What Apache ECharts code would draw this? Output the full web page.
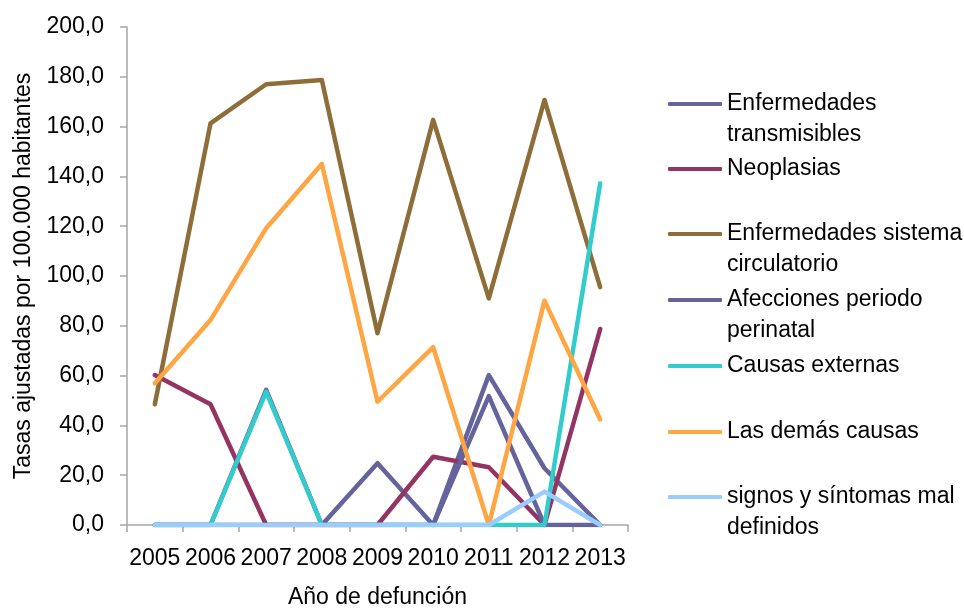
<!DOCTYPE html>
<html>
<head>
<meta charset="utf-8">
<script src="https://cdn.jsdelivr.net/npm/echarts@6/dist/echarts.min.js"></script>
<style>
  html, body { margin: 0; padding: 0; background: #ffffff; }
  #chart { width: 964px; height: 609px; }
</style>
</head>
<body>
<div id="chart"></div>
<script>
// Años de defunción (eje de categorías)
const years = ['2005', '2006', '2007', '2008', '2009', '2010', '2011', '2012', '2013'];

// Tasas ajustadas por 100.000 habitantes, por grupo de causas
const enfTransmisibles = [0, 0, 0, 0, 24.8, 0, 60.2, 22.8, 0];
const neoplasias = [60.2, 48.5, 0, 0, 0, 27.4, 23.2, 0, 78.7];
const sistemaCirculatorio = [48.5, 161.3, 177.0, 178.7, 77.0, 162.7, 91.0, 170.7, 95.5];
const periodoPerinatal = [0, 0, 54.3, 0, 0, 0, 51.8, 0, 0];
const causasExternas = [0, 0, 53.5, 0, 0, 0, 0, 0, 137.2];
const demasCausas = [56.9, 82.3, 119.2, 145.0, 49.5, 71.4, 0, 90.1, 42.4];
const signosMalDefinidos = [0, 0, 0, 0, 0, 0, 0, 13.4, 0];

// Nombres de las series y su texto en la leyenda (con salto de línea)
const seriesNames = [
  'Enfermedades transmisibles',
  'Neoplasias',
  'Enfermedades sistema circulatorio',
  'Afecciones periodo perinatal',
  'Causas externas',
  'Las demás causas',
  'signos y síntomas mal definidos'
];
const legendLabels = [
  'Enfermedades\ntransmisibles',
  'Neoplasias',
  'Enfermedades sistema\ncirculatorio',
  'Afecciones periodo\nperinatal',
  'Causas externas',
  'Las demás causas',
  'signos y síntomas mal\ndefinidos'
];
const seriesValues = [
  enfTransmisibles, neoplasias, sistemaCirculatorio, periodoPerinatal,
  causasExternas, demasCausas, signosMalDefinidos
];
const seriesColors = ['#65639B', '#943462', '#8D6E39', '#65639B', '#33CCCC', '#FFA644', '#99CCFF'];

const FONT = "'Liberation Sans', Arial, sans-serif";
const FONT_SIZE = 23;
const LINE_H = 31;
// Centro vertical del icono de cada entrada de la leyenda
const legendIconY = [104, 169, 234, 300, 366, 432, 497];

// Una leyenda por serie; en las de dos líneas se antepone una línea vacía
// para que la primera línea de texto quede a la altura del icono.
const legends = seriesNames.map(function (name, i) {
  const twoLines = legendLabels[i].indexOf('\n') >= 0;
  const text = twoLines ? '\n' + legendLabels[i] : legendLabels[i];
  const boxH = twoLines ? LINE_H * 3 : LINE_H;
  return {
    orient: 'vertical',
    left: 668,
    top: legendIconY[i] - boxH / 2,
    padding: 0,
    icon: 'roundRect',
    itemWidth: 54,
    itemHeight: 4,
    selectedMode: false,
    data: [name],
    formatter: function () { return text; },
    textStyle: {
      fontFamily: FONT,
      fontSize: FONT_SIZE,
      color: '#000000',
      lineHeight: LINE_H
    }
  };
});

const chart = echarts.init(document.getElementById('chart'), null, { renderer: 'canvas' });
chart.setOption({
  animation: false,
  backgroundColor: '#ffffff',
  legend: legends,
  grid: { left: 127, right: 336, top: 27, bottom: 84, containLabel: false, outerBoundsMode: 'none' },
  xAxis: {
    type: 'category',
    data: years,
    boundaryGap: true,
    name: 'Año de defunción',
    nameLocation: 'middle',
    nameGap: 61,
    nameTextStyle: { fontFamily: FONT, fontSize: FONT_SIZE, color: '#000000' },
    axisLine: { lineStyle: { color: '#A6A6A6', width: 1.5 } },
    axisTick: { show: true, length: 7, inside: false, alignWithLabel: false, lineStyle: { color: '#A6A6A6', width: 1.5 } },
    axisLabel: { margin: 22, fontFamily: FONT, fontSize: FONT_SIZE, color: '#000000', interval: 0, hideOverlap: false },
    splitLine: { show: false }
  },
  yAxis: {
    type: 'value',
    min: 0,
    max: 200,
    interval: 20,
    name: 'Tasas ajustadas por 100.000 habitantes',
    nameLocation: 'middle',
    nameGap: 87,
    nameTextStyle: { fontFamily: FONT, fontSize: FONT_SIZE, color: '#000000' },
    axisLine: { show: true, lineStyle: { color: '#A6A6A6', width: 1.5 } },
    axisTick: { show: true, length: 7, inside: false, lineStyle: { color: '#A6A6A6', width: 1.5 } },
    axisLabel: {
      margin: 23,
      fontFamily: FONT,
      fontSize: FONT_SIZE,
      color: '#000000',
      formatter: function (v) { return v.toFixed(1).replace('.', ','); }
    },
    splitLine: { show: false }
  },
  series: seriesNames.map(function (name, i) {
    return {
      name: name,
      type: 'line',
      data: seriesValues[i],
      symbol: 'none',
      showSymbol: false,
      smooth: false,
      color: seriesColors[i],
      lineStyle: { width: 4.5, color: seriesColors[i], cap: 'round', join: 'round' }
    };
  })
});
</script>
</body>
</html>
